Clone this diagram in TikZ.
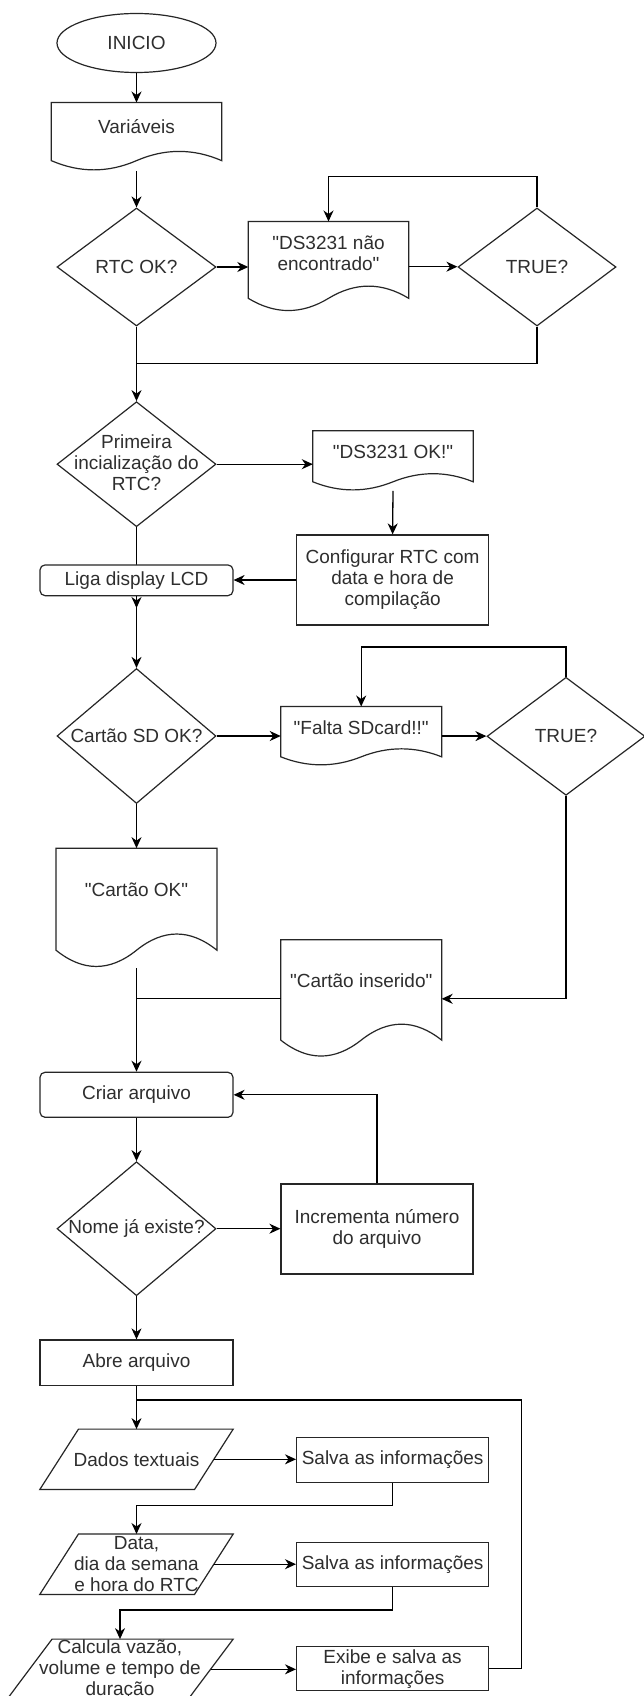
\documentclass[tikz,border=0pt]{standalone}
\usepackage{fontspec}
\setmainfont{Liberation Sans}[Ligatures=TeXOff]
\usetikzlibrary{shapes.geometric,arrows.meta,calc}

\tikzset{
  shapeline/.style={draw=black!85, line width=1.2pt},
  txt/.style={align=center, inner sep=0pt, text=black!82,
    font=\fontsize{19}{21}\selectfont},
  box/.style={shapeline, txt, rectangle, fill=white, minimum width=192pt},
  rbox/.style={box, rounded corners=5pt, minimum width=193pt},
  term/.style={shapeline, txt, ellipse, minimum width=159pt, minimum height=59pt},
  dia/.style={shapeline, diamond, inner sep=0pt, minimum width=159pt},
  frame/.style={rectangle, draw=none, inner sep=0pt},
  line/.style={draw=black, line width=1.3pt},
  arr/.style={line, -{Stealth[length=11pt,width=10pt,inset=3.5pt]}},
}

% document symbol: flat top, wavy bottom, drawn over an invisible frame node
\newcommand\docoutline[1]{%
  \draw[shapeline] let \p1=(#1.north west), \p2=(#1.south east),
      \n1={\x2-\x1}, \n2={\y1-\y2} in
    (\x1,\y1) -- (\x2,\y1) -- (\x2,{\y1-0.85*\n2})
    .. controls ({\x1+0.8333*\n1},{\y1-0.67*\n2}) and ({\x1+0.6667*\n1},{\y1-0.67*\n2})
    .. ({\x1+0.5*\n1},{\y1-0.85*\n2})
    .. controls ({\x1+0.3333*\n1},{\y1-1.03*\n2}) and ({\x1+0.1667*\n1},{\y1-1.03*\n2})
    .. (\x1,{\y1-0.85*\n2}) -- cycle;}
% name, centre x, centre y (down), width, height, text
\newcommand\mkdoc[6]{%
  \node[frame, minimum width=#4pt, minimum height=#5pt] (#1) at (#2,-#3) {};
  \docoutline{#1}
  \node[txt] (#1-t) at ($(#1.north)!0.35!(#1.south)$) {#6};}

% input/output parallelogram, slant = 0.2 of the width
\newcommand\slantoutline[1]{%
  \draw[shapeline] let \p1=(#1.north west), \p2=(#1.south east),
      \n1={0.2*(\x2-\x1)} in
    (\x1,\y2) -- ({\x2-\n1},\y2) -- (\x2,\y1) -- ({\x1+\n1},\y1) -- cycle;}
\newcommand\mkslant[6]{%
  \node[frame, minimum width=#4pt, minimum height=#5pt] (#1) at (#2,-#3) {};
  \slantoutline{#1}
  \node[txt] (#1-t) at (#1) {#6};}

\begin{document}
\begin{tikzpicture}[x=1pt,y=1pt]
\useasboundingbox (0,0) rectangle (644,-1696);
\fill[white] (0,0) rectangle (644,-1696);
\clip (0,0) rectangle (644,-1696);

% ---- start and RTC check ----
\node[term] (ini) at (136.5,-43) {INICIO};
\mkdoc{var}{136.5}{136.7}{170}{68}{Variáveis}
\node[dia, minimum height=118pt] (rtc) at (136.5,-267) {};
\node[txt] (rtc-t) at (rtc) {RTC OK?};
\mkdoc{nf}{328.5}{266.7}{160}{90}{"DS3231 não\\encontrado"}
\node[dia, minimum height=118pt, minimum width=158pt] (t1) at (537,-267) {};
\node[txt] (t1-t) at (t1) {TRUE?};
\coordinate (j1) at (136.5,-363.3);

\draw[arr] (ini.south) -- (var.north);
\draw[arr] (var.south) -- (rtc.north);
\draw[arr] (rtc.east) -- (rtc.east -| nf.west);
\draw[arr] (nf.east) -- (nf.east -| t1.west);
\draw[arr] (t1.north) -- ++(0,30.6) -| (nf.north);
\draw[line] (t1.south) |- (j1);

% ---- first start of the RTC ----
\node[dia, minimum height=125pt] (prim) at (136.5,-464.2) {};
\node[txt] (prim-t) at (136.5,-463) {Primeira\\incialização do\\RTC?};
\draw[arr] (rtc.south) -- (prim.north);
\mkdoc{dsok}{393}{460.8}{160}{59.6}{"DS3231 OK!"}
\node[box, minimum height=90pt] (cfg) at (392.6,-580)
  {Configurar RTC com\\data e hora de\\compilação};
\coordinate (ligaend) at (136.5,-608);
\draw[arr] (prim.south) -- (ligaend);
\node[rbox, minimum height=30.7pt] (liga) at (136.5,-580.3) {Liga display LCD};
\draw[arr] (prim.east) -- (prim.east -| dsok.west);
\draw[arr] (dsok.south) -- (cfg.north);
\draw[arr] (cfg.west) -- (cfg.west -| liga.east);

% ---- SD card check ----
\node[dia, minimum height=135pt] (sd) at (136.5,-736) {};
\node[txt] (sd-t) at (sd) {Cartão SD OK?};
\draw[arr] (liga.south) -- (sd.north);
\mkdoc{falta}{361.2}{736.1}{160.5}{58.8}{"Falta SDcard!!"}
\node[dia, minimum height=118pt, minimum width=158pt] (t2) at (566,-736.3) {};
\node[txt] (t2-t) at (t2) {TRUE?};
\mkdoc{cok}{136.5}{908.2}{160.5}{119.7}{"Cartão OK"}
\mkdoc{cins}{361.2}{998.8}{160.5}{117.6}{"Cartão inserido"}

\draw[arr] (sd.east) -- (sd.east -| falta.west);
\draw[arr] (falta.east) -- (falta.east -| t2.west);
\draw[arr] (t2.north) -- ++(0,29.6) -| (falta.north);
\draw[arr] (t2.south) |- (cins.east);
\draw[arr] (sd.south) -- (cok.north);

% ---- file creation ----
\node[rbox, minimum height=45pt] (criar) at (136.5,-1094.8) {Criar arquivo};
\draw[arr] (cok.south) -- (criar.north);
\draw[line] (cins.west) -- (cins.west -| cok.south);
\node[dia, minimum height=134pt] (nome) at (136.5,-1228.7) {};
\node[txt] (nome-t) at (nome) {Nome já existe?};
\node[box, minimum height=90pt] (inc) at (377,-1229) {Incrementa número\\do arquivo};
\node[box, minimum width=193pt, minimum height=45.7pt] (abre) at (136.5,-1362.8) {Abre arquivo};
\draw[arr] (criar.south) -- (nome.north);
\draw[arr] (nome.east) -- (nome.east -| inc.west);
\draw[arr] (inc.north) |- (criar.east);
\draw[arr] (nome.south) -- (abre.north);

% ---- data logging loop ----
\mkslant{dados}{136.5}{1459.3}{193}{60}{Dados textuais}
\node[box, minimum height=44.6pt] (s1) at (392.6,-1460) {Salva as informações};
\mkslant{data}{136.5}{1564.2}{193}{60}{Data,\\dia da semana\\e hora do RTC}
\node[box, minimum height=44.4pt] (s2) at (392.6,-1564.5) {Salva as informações};
\mkslant{calc}{120}{1669.3}{226}{60}{Calcula vazão,\\volume e tempo de\\duração}
\node[box, minimum height=44pt] (exibe) at (392.6,-1668.7) {Exibe e salva as\\informações};
\coordinate (j2) at (136.5,-1400);

\draw[arr] (abre.south) -- (dados.north);
\draw[arr] ([xshift=-19.3pt]dados.east) -- (dados.east -| s1.west);
\draw[arr] (s1.south) -- ++(0,-22.7) -| (data.north);
\draw[arr] ([xshift=-19.3pt]data.east) -- (data.east -| s2.west);
\draw[arr] (s2.south) -- ++(0,-22.6) -| (calc.north);
\draw[arr] ([xshift=-22.6pt]calc.east) -- (calc.east -| exibe.west);
\draw[line] (exibe.east) -- ++(32,0) |- (j2);
\end{tikzpicture}
\end{document}
